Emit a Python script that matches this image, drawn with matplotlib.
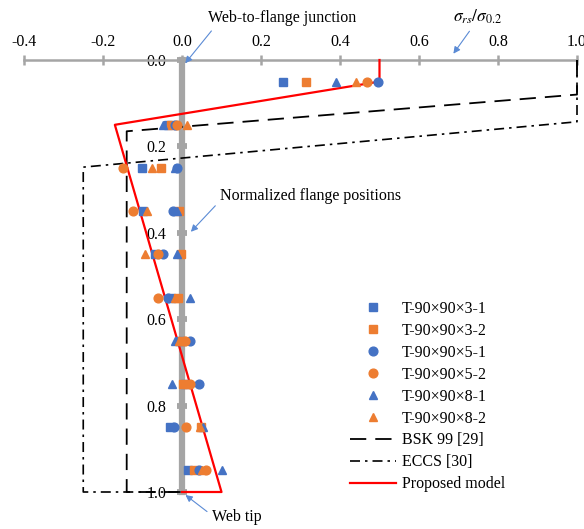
import matplotlib
matplotlib.use('Agg')
import matplotlib.pyplot as plt
from matplotlib.lines import Line2D

plt.rcParams['font.family'] = ['Liberation Serif', 'DejaVu Serif']
plt.rcParams['mathtext.fontset'] = 'stix'

# normalized flange positions (rows of measurements)
positions = [0.05, 0.15, 0.25, 0.35, 0.45, 0.55, 0.65, 0.75, 0.85, 0.95]

# sigma_rs / sigma_0.2 per specimen
t3_1 = [0.256, -0.035, -0.101, -0.099, -0.068, -0.028, -0.005, 0.008, -0.030, 0.015]
t3_2 = [0.314, -0.028, -0.053, -0.008, -0.003, -0.010, 0.000, 0.003, 0.048, 0.030]
t5_1 = [0.496, -0.018, -0.012, -0.023, -0.048, -0.035, 0.020, 0.043, -0.020, 0.042]
t5_2 = [0.468, -0.012, -0.149, -0.124, -0.061, -0.060, 0.008, 0.020, 0.010, 0.062]
t8_1 = [0.390, -0.048, -0.018, -0.012, -0.013, 0.020, -0.018, -0.025, 0.053, 0.100]
t8_2 = [0.441, 0.012, -0.076, -0.089, -0.094, -0.018, -0.008, 0.012, 0.046, 0.050]

# design models (x = stress ratio, y = position)
bsk_x = [1.0, 1.0, -0.14, -0.14, 0.0]
bsk_y = [0.0, 0.08, 0.165, 1.0, 1.0]
eccs_x = [1.0, 1.0, -0.25, -0.25, 0.0]
eccs_y = [0.0, 0.143, 0.248, 1.0, 1.0]
prop_x = [0.5, 0.5, -0.17, 0.1, 0.0]
prop_y = [0.0, 0.05, 0.15, 1.0, 1.0]

xticks = [-0.4, -0.2, 0.0, 0.2, 0.4, 0.6, 0.8, 1.0]
yticks = [0.0, 0.2, 0.4, 0.6, 0.8, 1.0]

blue = '#4472C4'
orange = '#ED7D31'
grey = '#A5A5A5'
arrow_c = '#5B8BD5'

W, H = 584, 529
fig = plt.figure(figsize=(W / 100, H / 100), dpi=100)
ax = fig.add_axes([24 / W, 1 - 492 / H, (577 - 24) / W, (492 - 60) / H])
ax.set_xlim(-0.4, 1.0)
ax.set_ylim(1.0, 0.0)

for s in ['bottom', 'right']:
    ax.spines[s].set_visible(False)
ax.spines['top'].set_color(grey)
ax.spines['top'].set_linewidth(1.8)
ax.spines['left'].set_position(('data', 0))
ax.spines['left'].set_color(grey)
ax.spines['left'].set_linewidth(4.5)
ax.spines['left'].set_zorder(1)

ax.xaxis.tick_top()
ax.set_xticks(xticks)
ax.set_xticklabels([f'{v:.1f}' for v in xticks])
ax.tick_params(axis='x', direction='inout', length=7, width=1.8, color=grey,
               labelsize=11.5, pad=4)
ax.set_yticks(yticks)
ax.set_yticklabels([f'{v:.1f}' for v in yticks])
ax.tick_params(axis='y', direction='inout', length=7, width=4.2, color=grey,
               labelsize=11.5, pad=8)

ax.plot(bsk_x, bsk_y, color='black', lw=1.3, dashes=(9, 5), clip_on=False, zorder=3)
ax.plot(eccs_x, eccs_y, color='black', lw=1.2, dashes=(6, 3, 1.5, 3), clip_on=False, zorder=3)
ax.plot(prop_x, prop_y, color='#FF0000', lw=1.6, clip_on=False, zorder=4)

series = [
    (t3_1, 's', blue, 'T-90×90×3-1'),
    (t3_2, 's', orange, 'T-90×90×3-2'),
    (t5_1, 'o', blue, 'T-90×90×5-1'),
    (t5_2, 'o', orange, 'T-90×90×5-2'),
    (t8_1, '^', blue, 'T-90×90×8-1'),
    (t8_2, '^', orange, 'T-90×90×8-2'),
]
handles = []
for vals, mk, col, lab in series:
    ax.plot(vals, positions, ls='none', marker=mk, ms=6.3, color=col, mec=col,
            clip_on=False, zorder=5)
    handles.append(Line2D([], [], ls='none', marker=mk, ms=6.3, color=col, label=lab))

handles.append(Line2D([], [], color='black', lw=1.3, dashes=(9, 5), label='BSK 99 [29]'))
handles.append(Line2D([], [], color='black', lw=1.2, dashes=(6, 3, 1.5, 3), label='ECCS [30]'))
handles.append(Line2D([], [], color='#FF0000', lw=1.6, label='Proposed model'))

fig.legend(handles=handles, loc='upper left', bbox_to_anchor=(350 / W, 1 - 301 / H),
           frameon=False, fontsize=11.5, labelspacing=0.37, handlelength=2.9,
           handletextpad=0.35, borderpad=0, borderaxespad=0)

def arrow(rel):
    return dict(arrowstyle='-|>', color=arrow_c, lw=0.8, mutation_scale=10,
                relpos=rel, shrinkA=2, shrinkB=1)

ax.annotate('Web-to-flange junction', xy=(0.006, 0.01), xycoords='data',
            xytext=(208 / W, 1 - 18 / H), textcoords='figure fraction',
            ha='left', va='center', fontsize=11.5, arrowprops=arrow((0.05, 0.0)))
ax.annotate(r'$\sigma_{rs}/\sigma_{0.2}$', xy=(0.685, -0.012), xycoords='data',
            xytext=(478 / W, 1 - 17 / H), textcoords='figure fraction',
            ha='center', va='center', fontsize=12.5, arrowprops=arrow((0.4, 0.0)),
            annotation_clip=False)
ax.annotate('Normalized flange positions', xy=(0.02, 0.4), xycoords='data',
            xytext=(220 / W, 1 - 196 / H), textcoords='figure fraction',
            ha='left', va='center', fontsize=11.5, arrowprops=arrow((0.0, 0.2)))
ax.annotate('Web tip', xy=(0.006, 1.005), xycoords='data',
            xytext=(212 / W, 1 - 517 / H), textcoords='figure fraction',
            ha='left', va='center', fontsize=11.5, arrowprops=arrow((0.0, 0.6)),
            annotation_clip=False)

fig.savefig('out.png', dpi=100, facecolor='white')
